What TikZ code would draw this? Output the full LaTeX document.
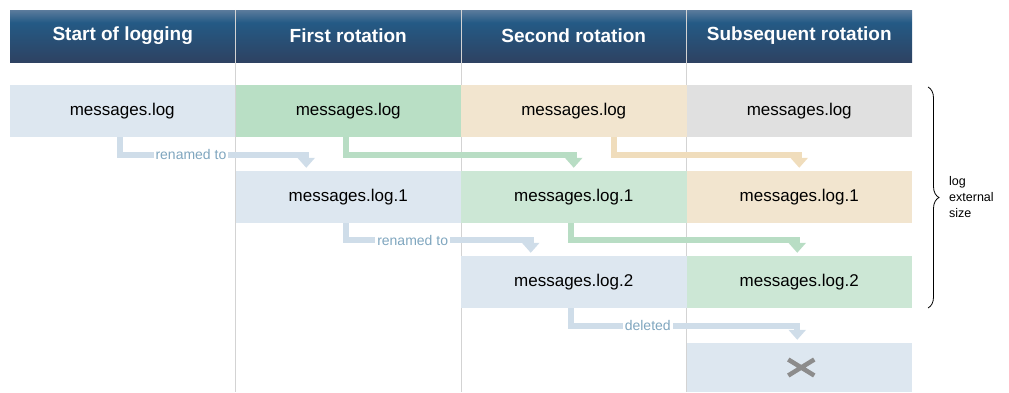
\documentclass[tikz,border=0pt]{standalone}
\usepackage{fontspec}
\setmainfont{Liberation Sans}
\usetikzlibrary{positioning, calc, arrows.meta, decorations.pathreplacing}

\definecolor{headtop}{HTML}{5B7B9C}
\definecolor{headmid}{HTML}{245A85}
\definecolor{headbot}{HTML}{2E4262}
\definecolor{fresh}{HTML}{DDE7F0}
\definecolor{greenA}{HTML}{B9DFC5}
\definecolor{greenB}{HTML}{CCE7D5}
\definecolor{beige}{HTML}{F2E5CF}
\definecolor{old}{HTML}{E0E0E0}
\definecolor{bluearrow}{HTML}{CFDDE9}
\definecolor{greenarrow}{HTML}{B8DDC4}
\definecolor{beigearrow}{HTML}{F0DDBC}
\definecolor{labeltext}{HTML}{7FA6BF}
\definecolor{divider}{HTML}{D3D3D3}

\pgfdeclareverticalshading{headshade}{100bp}{color(0bp)=(headbot); color(25bp)=(headbot); color(63bp)=(headmid); color(75bp)=(headtop); color(100bp)=(headtop)}

\begin{document}
\begin{tikzpicture}[x=1pt, y=-1pt,
    cell/.style={rectangle, minimum width=225.5pt, minimum height=52pt, inner sep=0pt,
      font=\fontsize{17}{20}\selectfont},
    head/.style={cell, shading=headshade, text=white, font=\bfseries\fontsize{19}{22}\selectfont},
    flow/.style={line width=6pt, -{Triangle[width=17pt,length=10pt]}, shorten >=3pt},
    note/.style={fill=white, inner sep=2pt, text=labeltext, font=\fontsize{14}{16}\selectfont}]

  \useasboundingbox (0,0) rectangle (1009,392);

  % column heads
  \node[head] (head 1) at (122.75,36) {Start of logging};
  \node[head] (head 2) at (348.25,36) {First rotation};
  \node[head] (head 3) at (573.75,36) {Second rotation};
  \node[head] (head 4) at (799.25,36) {Subsequent rotation};

  \foreach \h in {1,2,3}
    \draw[divider, line width=1pt] (head \h.north east) -- (head \h.north east |- 0,392);

  % log files
  \node[cell, fill=fresh] (start log) at (122.25,111) {messages.log};

  \node[cell, fill=greenA] (first log) at (348.25,111) {messages.log};
  \node[cell, fill=fresh] (first log1) at (348.25,197) {messages.log.1};

  \node[cell, fill=beige] (second log) at (573.75,111) {messages.log};
  \node[cell, fill=greenB] (second log1) at (573.75,197) {messages.log.1};
  \node[cell, fill=fresh] (second log2) at (573.75,282) {messages.log.2};

  \node[cell, fill=old] (next log) at (799.25,111) {messages.log};
  \node[cell, fill=beige] (next log1) at (799.25,197) {messages.log.1};
  \node[cell, fill=greenB] (next log2) at (799.25,282) {messages.log.2};
  \node[cell, fill=fresh, minimum height=49pt] (next gone) at (799.25,367.5) {};

  % rotations
  \draw[flow, bluearrow] ([xshift=-2pt]start log.south) -- ++(0,17.5)
    -| node[note, pos=0.19] {renamed to} ([xshift=-42pt]first log1.north);
  \draw[flow, greenarrow] ([xshift=-2pt]first log.south) -- ++(0,17.5) -| (second log1.north);
  \draw[flow, beigearrow] ([xshift=40pt]second log.south) -- ++(0,17.5) -| (next log1.north);

  \draw[flow, bluearrow] ([xshift=-2pt]first log1.south) -- ++(0,17)
    -| node[note, pos=0.18] {renamed to} ([xshift=-43pt]second log2.north);
  \draw[flow, greenarrow] ([xshift=-3pt]second log1.south) -- ++(0,17) -| ([xshift=-2pt]next log2.north);

  \draw[flow, bluearrow] ([xshift=-3pt]second log2.south) -- ++(0,17.5)
    -| node[note, pos=0.17] {deleted} ([xshift=-2pt]next gone.north);

  % deleted file
  \draw[line width=4.5pt, color=black!45]
    ($(next gone.center)+(-11,-8)$) -- ($(next gone.center)+(15,8)$)
    ($(next gone.center)+(-11,8)$) -- ($(next gone.center)+(15,-8)$);

  % size brace
  \coordinate (brace top) at (928,87);
  \coordinate (brace bot) at (928,308);
  \draw[decorate, decoration={brace, amplitude=11pt}, line width=0.8pt] (brace top) -- (brace bot);
  \node[anchor=west, align=left, inner sep=0pt, font=\fontsize{12.5}{16}\selectfont] (size note)
    at (949,197) {log\\external\\size};

\end{tikzpicture}
\end{document}
